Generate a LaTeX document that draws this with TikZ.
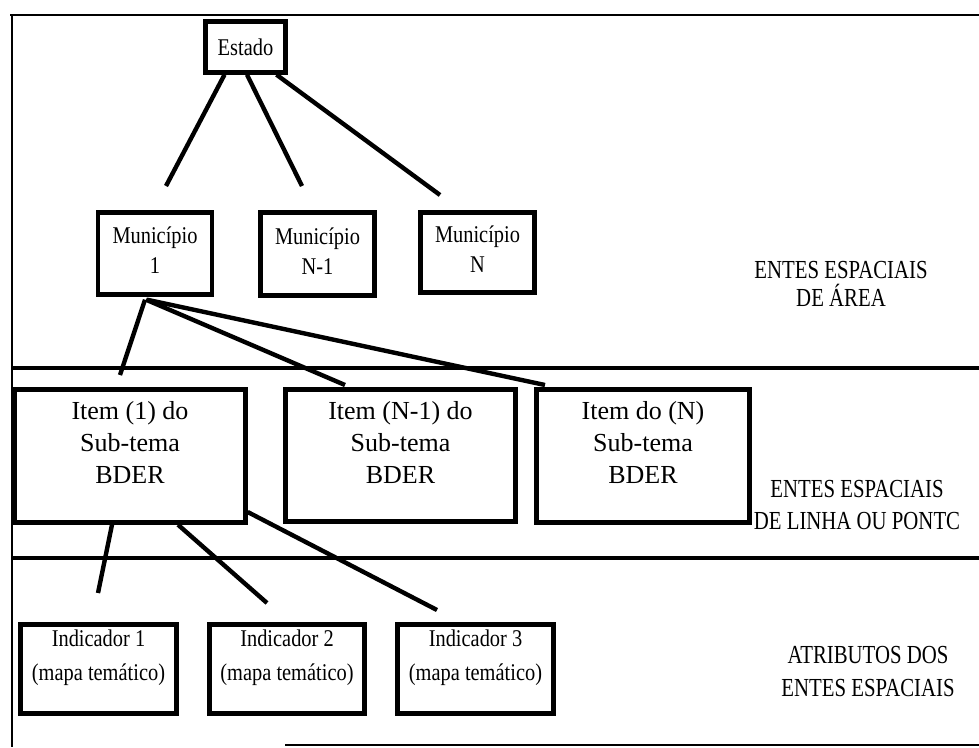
\documentclass[tikz,border=0pt]{standalone}
\usepackage{fontspec}
\setmainfont{Liberation Serif}
\newfontfamily\narrowserif[FakeStretch=0.85]{Liberation Serif}
\newfontfamily\capsserif[FakeStretch=0.8]{Liberation Serif}
\begin{document}
\begin{tikzpicture}[x=1pt,y=-1pt,
  box/.style={draw, line width=4.4pt, inner sep=0pt},
  link/.style={line width=4.4pt},
  band/.style={line width=4.4pt},
  frame/.style={line width=1.6pt},
  smalltxt/.style={font=\narrowserif\fontsize{24}{30}\selectfont, align=center, inner sep=0pt},
  indtxt/.style={font=\narrowserif\fontsize{24}{34}\selectfont, align=center, inner sep=0pt},
  itemtxt/.style={font=\fontsize{26}{32}\selectfont, align=center, inner sep=0pt},
  layer/.style={font=\capsserif\fontsize{26}{#1}\selectfont, align=center, inner sep=0pt},
]
\useasboundingbox (0,0) rectangle (979,747);

% outer frame (open on the right, bottom only partly ruled)
\coordinate (fTL) at (10,15);
\coordinate (fTR) at (979,15);
\coordinate (fBL) at (12,747);
\coordinate (fB1) at (285,745);
\coordinate (fB2) at (979,745);
\draw[frame] (fTL) -- (fTR);
\draw[frame] ([xshift=2pt]fTL) -- (fBL);
\draw[frame] (fB1) -- (fB2);

% band separators
\coordinate (b1L) at (12,368);
\coordinate (b1R) at (979,368);
\coordinate (b2L) at (12,558);
\coordinate (b2R) at (979,558);
\draw[band] (b1L) -- (b1R);
\draw[band] (b2L) -- (b2R);

% level 1: state
\node[box, minimum width=80pt, minimum height=51pt] (estado) at (245.5,47) {};
\node[smalltxt] (estado-t) at (estado.center) {Estado};

% level 2: municipalities
\node[box, minimum width=114pt, minimum height=82pt] (mun1) at (155,253.5) {};
\node[box, minimum width=114pt, minimum height=83pt] (mun2) at (317.5,254) {};
\node[box, minimum width=114pt, minimum height=80pt] (mun3) at (477.5,252.5) {};
\node[smalltxt] (mun1-t) at ([yshift=3pt]mun1.center) {Município\\1};
\node[smalltxt] (mun2-t) at ([yshift=3pt]mun2.center) {Município\\N-1};
\node[smalltxt] (mun3-t) at ([yshift=3pt]mun3.center) {Município\\N};

% level 3: sub-theme items
\node[box, minimum width=231pt, minimum height=133pt] (item1) at (130,456) {};
\node[box, minimum width=230pt, minimum height=132pt] (item2) at (400.5,455.5) {};
\node[box, minimum width=213pt, minimum height=133pt] (item3) at (643,456) {};
\node[itemtxt] (item1-t) at ([yshift=13pt]item1.center) {Item (1) do\\Sub-tema\\BDER};
\node[itemtxt] (item2-t) at ([yshift=13pt]item2.center) {Item (N-1) do\\Sub-tema\\BDER};
\node[itemtxt] (item3-t) at ([yshift=13pt]item3.center) {Item do (N)\\Sub-tema\\BDER};

% level 4: indicators
\node[box, minimum width=156pt, minimum height=89pt] (ind1) at (98.5,669) {};
\node[box, minimum width=155pt, minimum height=89pt] (ind2) at (287,669) {};
\node[box, minimum width=156pt, minimum height=89pt] (ind3) at (475.5,669) {};
\node[indtxt] (ind1-t) at ([yshift=11pt]ind1.center) {Indicador 1\\(mapa temático)};
\node[indtxt] (ind2-t) at ([yshift=11pt]ind2.center) {Indicador 2\\(mapa temático)};
\node[indtxt] (ind3-t) at ([yshift=11pt]ind3.center) {Indicador 3\\(mapa temático)};

% layer captions
\node[layer=28] (cap1) at (841,284) {ENTES ESPACIAIS\\DE ÁREA};
\node[layer=32] (cap2) at (857,505) {ENTES ESPACIAIS\\DE LINHA OU PONTC};
\node[layer=33] (cap3) at (868,672) {ATRIBUTOS DOS\\ENTES ESPACIAIS};

% free ends of the connectors (they stop short of the boxes)
\coordinate (toMun1) at (166,186);
\coordinate (toMun2) at (302,186);
\coordinate (toMun3) at (440,195);
\coordinate (toItem1) at (120,375);
\coordinate (toItem2) at (345,385);
\coordinate (toItem3) at (545,385);
\coordinate (toInd1) at (98,593);
\coordinate (toInd2) at (267,603);
\coordinate (toInd3) at (437,610);

% connectors
\draw[link] ([xshift=-21pt]estado.south) -- (toMun1);
\draw[link] ([xshift=1.5pt]estado.south) -- (toMun2);
\draw[link] ([xshift=31pt]estado.south) -- (toMun3);
\draw[link] ([xshift=-10pt,yshift=-3pt]mun1.south) -- (toItem1);
\draw[link] ([xshift=-9pt,yshift=-3pt]mun1.south) -- (toItem2);
\draw[link] ([xshift=-8pt,yshift=-3pt]mun1.south) -- (toItem3);
\draw[link] ([xshift=-18pt]item1.south) -- (toInd1);
\draw[link] ([xshift=48pt]item1.south) -- (toInd2);
\draw[link] ([yshift=-56pt]item1.east) -- (toInd3);
\end{tikzpicture}
\end{document}
